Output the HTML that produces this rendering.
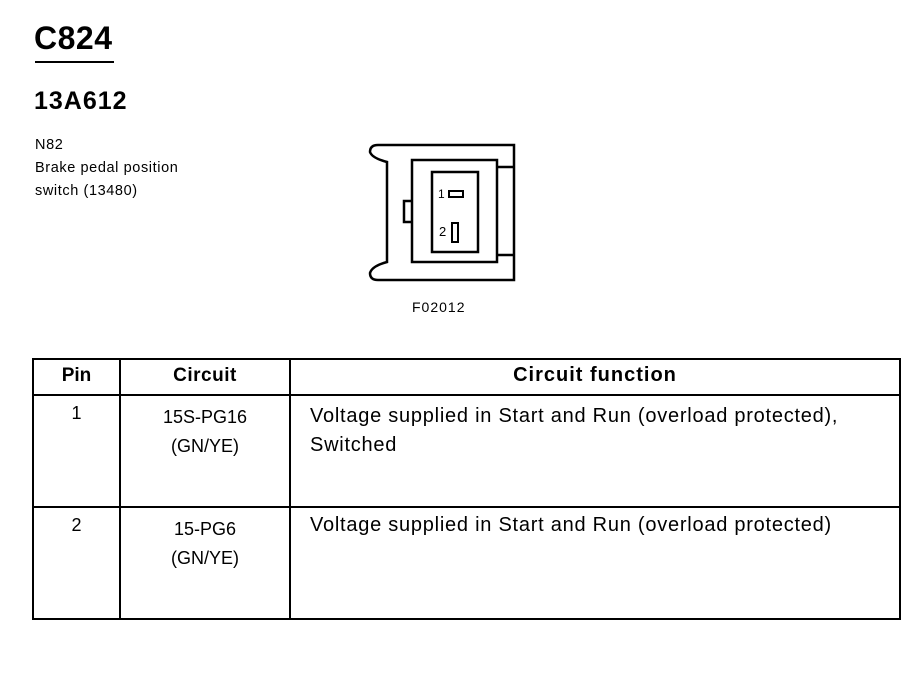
<!DOCTYPE html>
<html><head><style>
body{margin:0;width:910px;height:688px;background:#fff;position:relative;font-family:"Liberation Sans",Arial,sans-serif;color:#000;overflow:hidden}
.a{position:absolute;white-space:nowrap}
</style></head><body>
<div class="a" style="left:34px;top:20px;font-size:32px;font-weight:bold;letter-spacing:0.5px">C824</div>
<div style="position:absolute;left:35px;top:61px;width:79px;height:2px;background:#000"></div>
<div class="a" style="left:34px;top:87px;font-size:25px;font-weight:bold;letter-spacing:1px">13A612</div>
<div class="a" style="left:35px;top:134px;font-size:14.5px;line-height:23px;letter-spacing:0.6px">N82<br>Brake pedal position<br>switch (13480)</div>
<svg style="position:absolute;left:0;top:0" width="910" height="688">
<g fill="none" stroke="#000" stroke-width="2.5">
<path d="M378,145 L514,145 L514,280 L378,280 Q370,280 370,273 Q372,266 387,262 L387,162 Q372,158 370,152 Q370,145 378,145 Z"/>
<rect x="412" y="160" width="85" height="102"/>
<line x1="497" y1="167" x2="514" y2="167"/>
<line x1="497" y1="255" x2="514" y2="255"/>
<path d="M412,201 L404,201 L404,222 L412,222"/>
<rect x="432" y="172" width="46" height="80"/>
<rect x="449" y="191" width="14" height="6" stroke-width="2"/>
<rect x="452" y="223" width="6" height="19" stroke-width="2"/>
</g>
<text x="438" y="198" font-size="12" font-family="Liberation Sans">1</text>
<text x="439" y="236" font-size="13" font-family="Liberation Sans">2</text>
<text x="412" y="312" font-size="14" letter-spacing="1" font-family="Liberation Sans">F02012</text>
<g stroke="#000" stroke-width="2" fill="none">
<rect x="33" y="359" width="867" height="260"/>
<line x1="33" y1="395" x2="900" y2="395"/>
<line x1="33" y1="507" x2="900" y2="507"/>
<line x1="120" y1="359" x2="120" y2="619"/>
<line x1="290" y1="359" x2="290" y2="619"/>
</g>
</svg>
<div class="a" style="left:33px;width:87px;text-align:center;top:365px;font-size:19px;font-weight:bold">Pin</div>
<div class="a" style="left:120px;width:170px;text-align:center;top:365px;font-size:19px;font-weight:bold;letter-spacing:0.5px">Circuit</div>
<div class="a" style="left:290px;width:610px;text-align:center;top:364px;font-size:20px;font-weight:bold;letter-spacing:1px">Circuit function</div>
<div class="a" style="left:33px;width:87px;text-align:center;top:403px;font-size:18px">1</div>
<div class="a" style="left:120px;width:170px;text-align:center;top:403px;font-size:18px;line-height:29px">15S-PG16<br>(GN/YE)</div>
<div class="a" style="left:310px;top:402px;font-size:20px;line-height:29px;letter-spacing:0.75px">Voltage supplied in Start and Run (overload protected),<br>Switched</div>
<div class="a" style="left:33px;width:87px;text-align:center;top:515px;font-size:18px">2</div>
<div class="a" style="left:120px;width:170px;text-align:center;top:515px;font-size:18px;line-height:29px">15-PG6<br>(GN/YE)</div>
<div class="a" style="left:310px;top:514px;font-size:20px;letter-spacing:0.75px">Voltage supplied in Start and Run (overload protected)</div>
</body></html>
